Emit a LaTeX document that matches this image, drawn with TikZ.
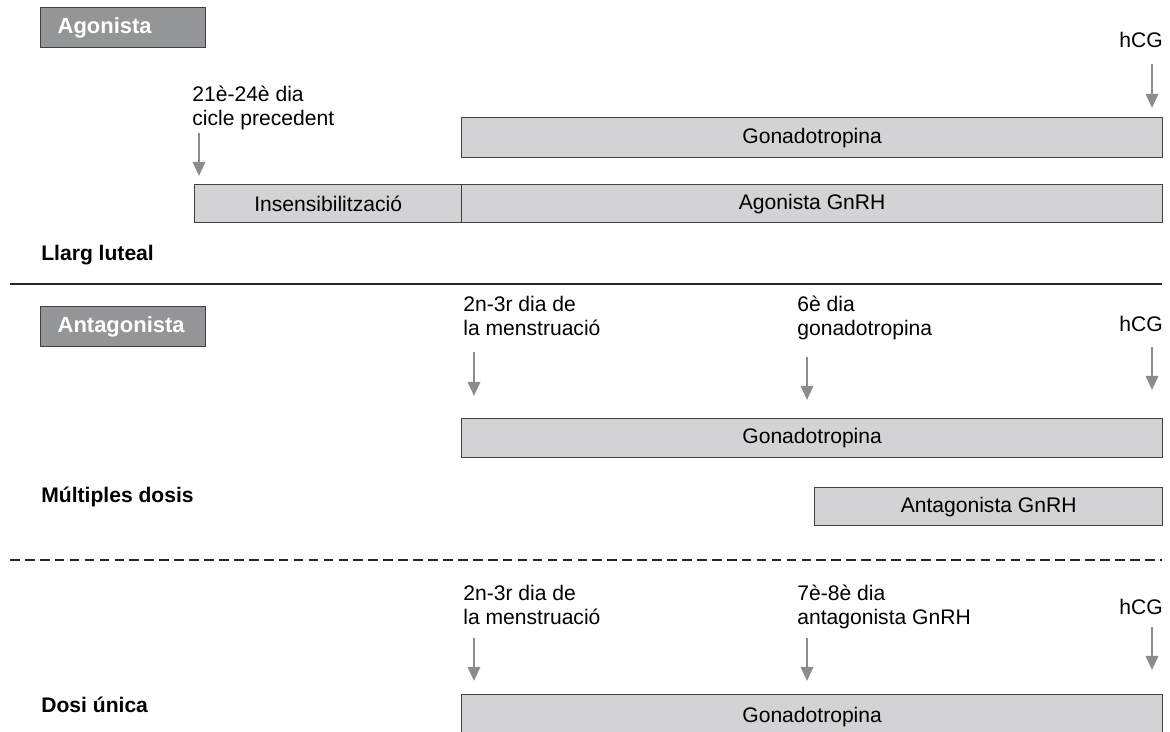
\documentclass[tikz,border=0pt]{standalone}
\usepackage{fontspec}
\setmainfont{Liberation Sans}
\usetikzlibrary{arrows.meta}

\definecolor{barfill}{HTML}{D3D3D5}
\definecolor{barline}{HTML}{404040}
\definecolor{tagfill}{HTML}{939598}
\definecolor{arrowgray}{HTML}{8C8C8E}

\tikzset{
  bar/.style={draw=barline, fill=barfill, line width=0.8pt, anchor=north west,
    inner sep=0pt, font=\fontsize{12}{14}\selectfont},
  tag/.style={draw=barline, fill=tagfill, text=white, line width=0.8pt, anchor=north west,
    font=\fontsize{12.5}{14}\selectfont\bfseries, minimum width=3.3cm, minimum height=0.8cm,
    text width=2.62cm, inner xsep=0.34cm, inner ysep=0pt, align=left},
  lbl/.style={font=\fontsize{12}{13.5}\selectfont, align=left, anchor=north west, inner sep=0pt},
  phase/.style={font=\fontsize{12}{14}\selectfont\bfseries, anchor=base west, inner sep=0pt},
  pointer/.style={arrowgray, line width=1.4pt, -{Triangle[width=7pt,length=8pt]}},
  sepline/.style={black!85, line width=1.2pt},
}

\begin{document}
\begin{tikzpicture}[x=0.02cm, y=-0.02cm]
        \useasboundingbox (0,0) rectangle (1170,731);

        % Agonista
        \node[tag] (tagago) at (40,7) {Agonista};
        \node[lbl] (day21) at (192,86) {21è-24è dia\\cicle precedent};
        \node[lbl, anchor=north east] (hcga) at (1163,32) {hCG};
        \node[bar, minimum width=14.02cm, minimum height=0.8cm] (gona) at (461,117) {Gonadotropina};
        \node[bar, minimum width=5.34cm, minimum height=0.76cm] (insens) at (194,184) {Insensibilització};
        \node[bar, minimum width=14.02cm, minimum height=0.76cm] (agognrh) at (461,184) {Agonista GnRH};
        \node[phase] (llarg) at (41,260) {Llarg luteal};

        \coordinate (sepaL) at (10,284);
        \coordinate (sepaR) at (1162,284);
        \draw[sepline] (sepaL) -- (sepaR);

        % Antagonista, multiples dosis
        \node[tag] (tagant) at (40,306) {Antagonista};
        \node[lbl] (mensb) at (463,296) {2n-3r dia de\\la menstruació};
        \node[lbl] (day6) at (797,296) {6è dia\\gonadotropina};
        \node[lbl, anchor=north east] (hcgb) at (1163,316) {hCG};
        \node[bar, minimum width=14.02cm, minimum height=0.78cm] (gonb) at (461,418) {Gonadotropina};
        \node[phase] (multi) at (41,502) {Múltiples dosis};
        \node[bar, minimum width=6.96cm, minimum height=0.76cm] (antgnrh) at (814,487) {Antagonista GnRH};

        \coordinate (sepbL) at (10,560);
        \coordinate (sepbR) at (1162,560);
        \draw[sepline, dash pattern=on 5.5pt off 3pt] (sepbL) -- (sepbR);

        % Dosi unica
        \node[lbl] (mensc) at (463,585) {2n-3r dia de\\la menstruació};
        \node[lbl] (day7) at (797,585) {7è-8è dia\\antagonista GnRH};
        \node[lbl, anchor=north east] (hcgc) at (1163,599) {hCG};
        \node[phase] (dosi) at (41,712) {Dosi única};
        \node[bar, minimum width=14.02cm, minimum height=0.9cm] (gonc) at (461,694) {Gonadotropina};

        \foreach \x/\ya/\yb [count=\i] in {199/133/176, 1152/64/108, 474/352/396, 807/357/400,
            1152/347/390, 474/638/681, 807/638/681, 1152/627/670}
        {
          \coordinate (p\i s) at (\x,\ya);
          \coordinate (p\i e) at (\x,\yb);
          \draw[pointer] (p\i s) -- (p\i e);
        }

\end{tikzpicture}
\end{document}
